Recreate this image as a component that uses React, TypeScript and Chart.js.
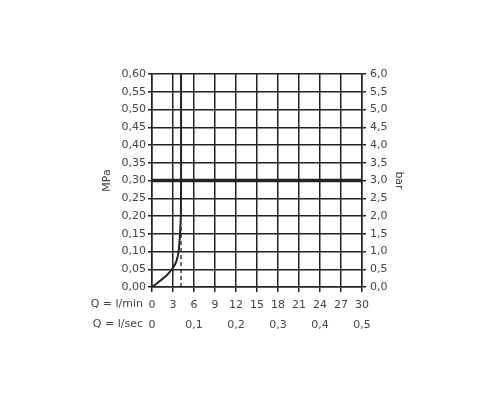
import React, { useEffect, useRef } from 'react';
import { Chart, registerables } from 'chart.js';

Chart.register(...registerables);

// Tick values / labels
const flowLpmTicks = [0, 3, 6, 9, 12, 15, 18, 21, 24, 27, 30];
const flowLpsTickPos = [0, 6, 12, 18, 24, 30];
const flowLpsTickLabels = ['0', '0,1', '0,2', '0,3', '0,4', '0,5'];
const mpaTicks = [0, 0.05, 0.1, 0.15, 0.2, 0.25, 0.3, 0.35, 0.4, 0.45, 0.5, 0.55, 0.6];
const barTicks = [0, 0.5, 1, 1.5, 2, 2.5, 3, 3.5, 4, 4.5, 5, 5.5, 6];

// Flow curve (Q l/min, p MPa)
const curveQ = [0, 1, 2, 2.85, 3.3, 3.6, 3.8, 4.0, 4.12, 4.15, 4.15];
const curveP = [0, 0.015, 0.031, 0.05, 0.064, 0.08, 0.1, 0.15, 0.2, 0.3, 0.6];

// Pressure limit line
const limitQ = [0, 30];
const limitP = [0.3, 0.3];

// Dashed reference line
const dashQ = [4.15, 4.15];
const dashP = [0, 0.17];

const FONT = 'DejaVu Sans';
const TEXT = '#444';
const LINE = '#222';

const toPts = (xs: number[], ys: number[]) => xs.map((x, i) => ({ x, y: ys[i] }));

const prefixPlugin = {
  id: 'prefixLabels',
  afterDraw(chart: any) {
    const { ctx, chartArea, scales } = chart;
    ctx.save();
    ctx.font = `11px "${FONT}"`;
    ctx.fillStyle = TEXT;
    ctx.textAlign = 'right';
    ctx.textBaseline = 'top';
    ctx.fillText('Q = l/min', chartArea.left - 9, scales.x.top + 5 + 7);
    ctx.fillText('Q = l/sec', chartArea.left - 9, scales.x2.top + 6);
    ctx.restore();
  },
};

export default function App() {
  const ref = useRef<HTMLCanvasElement | null>(null);

  useEffect(() => {
    if (!ref.current) return;
    const chart = new Chart(ref.current, {
      type: 'line',
      data: {
        datasets: [
          {
            data: toPts(limitQ, limitP),
            borderColor: LINE,
            borderWidth: 3.5,
            pointRadius: 0,
            xAxisID: 'x',
            yAxisID: 'y',
          },
          {
            data: toPts(curveQ, curveP),
            borderColor: LINE,
            borderWidth: 2,
            pointRadius: 0,
            tension: 0.25,
            xAxisID: 'x',
            yAxisID: 'y',
          },
          {
            data: toPts(dashQ, dashP),
            borderColor: LINE,
            borderWidth: 1.3,
            borderDash: [4, 3],
            pointRadius: 0,
            xAxisID: 'x',
            yAxisID: 'y',
          },
        ],
      },
      options: {
        animation: false,
        responsive: true,
        maintainAspectRatio: false,
        parsing: false as any,
        layout: { padding: { top: 74, bottom: 63, left: 97, right: 91 } },
        plugins: { legend: { display: false }, tooltip: { enabled: false } },
        scales: {
          x: {
            type: 'linear',
            position: 'bottom',
            min: 0,
            max: 30,
            afterBuildTicks: (s: any) => { s.ticks = flowLpmTicks.map((v) => ({ value: v })); },
            afterFit: (s: any) => { s.height = 26; },
            ticks: {
              padding: 7,
              color: TEXT,
              font: { family: FONT, size: 11 },
              maxRotation: 0,
              autoSkip: false,
              callback: (v: any) => String(v),
            },
            grid: { color: LINE, lineWidth: 1.5, tickLength: 5 },
            border: { color: LINE, width: 1.5 },
          },
          x2: {
            type: 'linear',
            position: 'bottom',
            min: 0,
            max: 30,
            afterBuildTicks: (s: any) => { s.ticks = flowLpsTickPos.map((v) => ({ value: v })); },
            afterFit: (s: any) => { s.height = 24; },
            ticks: {
              padding: 6,
              color: TEXT,
              font: { family: FONT, size: 11 },
              maxRotation: 0,
              autoSkip: false,
              callback: (_v: any, i: number) => flowLpsTickLabels[i],
            },
            grid: { display: false, drawTicks: false },
            border: { display: false },
          },
          y: {
            type: 'linear',
            position: 'left',
            min: 0,
            max: 0.6,
            afterBuildTicks: (s: any) => { s.ticks = mpaTicks.map((v) => ({ value: v })); },
            afterFit: (s: any) => { s.width = 55; },
            ticks: {
              padding: 2,
              color: TEXT,
              font: { family: FONT, size: 11 },
              autoSkip: false,
              callback: (v: any) => Number(v).toFixed(2).replace('.', ','),
            },
            grid: { color: LINE, lineWidth: 1.5, tickLength: 4 },
            border: { color: LINE, width: 1.5 },
            title: { display: true, text: 'MPa', color: TEXT, font: { family: FONT, size: 11 }, padding: { top: 4, bottom: 2 } },
          },
          y2: {
            type: 'linear',
            position: 'right',
            min: 0,
            max: 6,
            afterBuildTicks: (s: any) => { s.ticks = barTicks.map((v) => ({ value: v })); },
            afterFit: (s: any) => { s.width = 47; },
            ticks: {
              padding: 4,
              color: TEXT,
              font: { family: FONT, size: 11 },
              autoSkip: false,
              callback: (v: any) => Number(v).toFixed(1).replace('.', ','),
            },
            grid: { drawOnChartArea: false, color: LINE, lineWidth: 1.5, tickLength: 4 },
            border: { color: LINE, width: 1.5 },
            title: { display: true, text: 'bar', color: TEXT, font: { family: FONT, size: 11 }, padding: { top: 4, bottom: 2 } },
          },
        },
      } as any,
      plugins: [prefixPlugin],
    });
    return () => chart.destroy();
  }, []);

  return (
    <div style={{ position: 'fixed', left: 0, top: 0, width: 500, height: 400, background: '#fff' }}>
      <canvas ref={ref} />
    </div>
  );
}
